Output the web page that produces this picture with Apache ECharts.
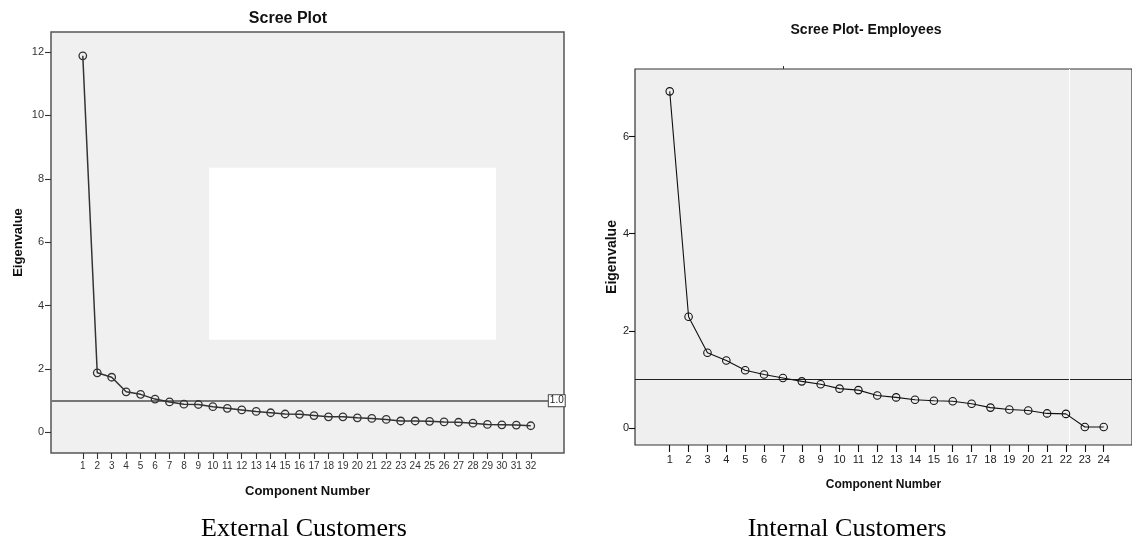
<!DOCTYPE html>
<html>
<head>
<meta charset="utf-8">
<script src="https://cdn.jsdelivr.net/npm/echarts@6/dist/echarts.min.js"></script>
<style>
html,body{margin:0;padding:0;background:#fff;}
#c{width:1132px;height:542px;}
</style>
</head>
<body>
<div id="c"></div>
<script>
// ---- Data ----
var extComponents = [1,2,3,4,5,6,7,8,9,10,11,12,13,14,15,16,17,18,19,20,21,22,23,24,25,26,27,28,29,30,31,32];
var extEigen = [11.88,1.88,1.74,1.28,1.20,1.05,0.96,0.89,0.88,0.81,0.76,0.71,0.66,0.62,0.58,0.57,0.53,0.49,0.49,0.46,0.44,0.41,0.36,0.36,0.35,0.33,0.32,0.29,0.25,0.24,0.23,0.21];
var extYTicks = [0,2,4,6,8,10,12];

var intComponents = [1,2,3,4,5,6,7,8,9,10,11,12,13,14,15,16,17,18,19,20,21,22,23,24];
var intEigen = [6.93,2.29,1.55,1.39,1.19,1.10,1.03,0.96,0.90,0.81,0.78,0.67,0.63,0.58,0.56,0.55,0.50,0.42,0.38,0.36,0.30,0.29,0.02,0.02];
var intYTicks = [0,2,4,6];
var intTopTick = [7];          // small stray tick above the right plot

var cutoff = 1;                // eigenvalue = 1 reference line
var extHiddenBox = [[9.74, 8.35], [29.6, 2.92]]; // white box covering part of left plot (data coords)
var intArtifactX = 22.17;      // faint white vertical line in right plot

var titles = ['Scree Plot', 'Scree Plot- Employees'];
var captions = ['External Customers', 'Internal Customers'];
var xName = 'Component Number';
var yName = 'Eigenvalue';

function pairs(xs, ys){ return xs.map(function(x,i){ return [x, ys[i]]; }); }

var sans = '"Liberation Sans", Arial, sans-serif';

var chart = echarts.init(document.getElementById('c'), null, {renderer:'canvas'});
var option = {
  animation: false,
  backgroundColor: '#fff',
  grid: [
    {left: 51, top: 32, width: 513, height: 421, show: true, backgroundColor: '#f0f0f0', borderColor: '#555', borderWidth: 1.5},
    {left: 635, top: 69, width: 497, height: 376, show: true, backgroundColor: '#efefef', borderColor: '#333', borderWidth: 1.2}
  ],
  xAxis: [
    {gridIndex: 0, type: 'value', min: -1.2, max: 34.3,
     axisLine: {show: false, onZero: false}, splitLine: {show: false},
     axisTick: {show: true, length: 6, customValues: extComponents, lineStyle: {color: '#333', width: 1.1}},
     axisLabel: {customValues: extComponents, margin: 8, fontSize: 10, color: '#333', fontFamily: sans},
     name: xName, nameLocation: 'middle', nameGap: 32,
     nameTextStyle: {fontWeight: 'bold', fontSize: 13, color: '#111', fontFamily: sans}},
    {gridIndex: 1, type: 'value', min: -0.84, max: 25.5,
     axisLine: {show: false, onZero: false}, splitLine: {show: false},
     axisTick: {show: true, length: 7, customValues: intComponents, lineStyle: {color: '#111', width: 1.1}},
     axisLabel: {customValues: intComponents, margin: 9, fontSize: 11, color: '#222', fontFamily: sans},
     name: xName, nameLocation: 'middle', nameGap: 34,
     nameTextStyle: {fontWeight: 'bold', fontSize: 12, color: '#111', fontFamily: sans}},
    {gridIndex: 1, type: 'value', position: 'top', min: -0.84, max: 25.5,
     axisLine: {show: false, onZero: false}, splitLine: {show: false},
     axisTick: {show: true, length: 3, customValues: intTopTick, lineStyle: {color: '#333'}},
     axisLabel: {show: false}}
  ],
  yAxis: [
    {gridIndex: 0, type: 'value', min: -0.65, max: 12.63,
     axisLine: {show: false, onZero: false}, splitLine: {show: false},
     axisTick: {show: true, length: 6, customValues: extYTicks, lineStyle: {color: '#333', width: 1.1}},
     axisLabel: {customValues: extYTicks, margin: 7, fontSize: 11, color: '#333', fontFamily: sans},
     name: yName, nameLocation: 'middle', nameGap: 26, nameRotate: 90,
     nameTextStyle: {fontWeight: 'bold', fontSize: 13, color: '#111', fontFamily: sans}},
    {gridIndex: 1, type: 'value', min: -0.35, max: 7.39,
     axisLine: {show: false, onZero: false}, splitLine: {show: false},
     axisTick: {show: true, length: 6, customValues: intYTicks, lineStyle: {color: '#111', width: 1.1}},
     axisLabel: {customValues: intYTicks, margin: 6, fontSize: 11, color: '#222', fontFamily: sans},
     name: yName, nameLocation: 'middle', nameGap: 16, nameRotate: 90,
     nameTextStyle: {fontWeight: 'bold', fontSize: 14, color: '#111', fontFamily: sans}}
  ],
  series: [
    {type: 'line', xAxisIndex: 0, yAxisIndex: 0, data: pairs(extComponents, extEigen),
     symbol: 'circle', symbolSize: 7.5, z: 5,
     lineStyle: {color: '#333', width: 1.5},
     itemStyle: {color: 'rgba(0,0,0,0)', borderColor: '#333', borderWidth: 1.3},
     markArea: {silent: true, itemStyle: {color: '#fff', borderWidth: 0},
       data: [[{coord: extHiddenBox[0]}, {coord: extHiddenBox[1]}]]},
     markLine: {silent: true, symbol: 'none', animation: false,
       lineStyle: {color: '#777', width: 2, type: 'solid'},
       label: {show: true, position: 'end', distance: 0, formatter: '1.0', fontSize: 10, color: '#222',
               backgroundColor: '#fff', borderColor: '#444', borderWidth: 1, padding: [1, 1, 0, 1], fontFamily: sans},
       data: [[{coord: [-1.2, cutoff]}, {coord: [33.25, cutoff]}]]}},
    {type: 'line', xAxisIndex: 1, yAxisIndex: 1, data: pairs(intComponents, intEigen),
     symbol: 'circle', symbolSize: 7.5, z: 5,
     lineStyle: {color: '#111', width: 1.1},
     itemStyle: {color: 'rgba(0,0,0,0)', borderColor: '#111', borderWidth: 1.1},
     markLine: {silent: true, symbol: 'none', animation: false,
       data: [
         {yAxis: cutoff, lineStyle: {color: '#222', width: 1, type: 'solid'}, label: {show: false}},
         {xAxis: intArtifactX, lineStyle: {color: '#fff', width: 1, type: 'solid'}, label: {show: false}}
       ]}}
  ],
  graphic: [
    {type: 'text', x: 288, y: 19, style: {text: titles[0], font: 'bold 16px ' + sans, fill: '#111', align: 'center', verticalAlign: 'middle', textAlign: 'center', textVerticalAlign: 'middle'}},
    {type: 'text', x: 866, y: 30, style: {text: titles[1], font: 'bold 14px ' + sans, fill: '#111', align: 'center', verticalAlign: 'middle', textAlign: 'center', textVerticalAlign: 'middle'}},
    {type: 'text', x: 304, y: 529, style: {text: captions[0], font: '26px "Liberation Serif", "Times New Roman", serif', fill: '#000', align: 'center', verticalAlign: 'middle', textAlign: 'center', textVerticalAlign: 'middle'}},
    {type: 'text', x: 847, y: 529, style: {text: captions[1], font: '26px "Liberation Serif", "Times New Roman", serif', fill: '#000', align: 'center', verticalAlign: 'middle', textAlign: 'center', textVerticalAlign: 'middle'}}
  ]
};
chart.setOption(option);
</script>
</body>
</html>
